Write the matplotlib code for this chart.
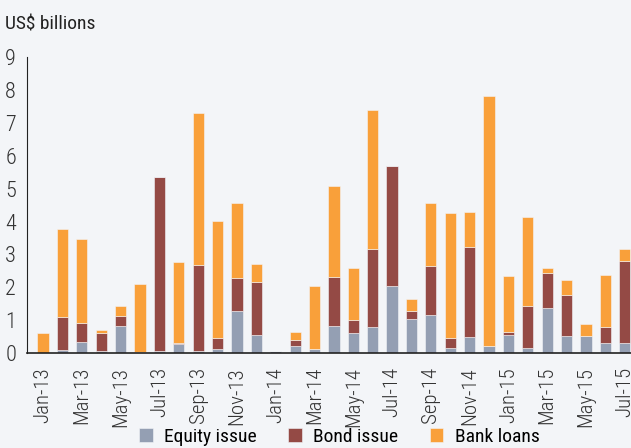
import matplotlib
matplotlib.use("Agg")
import matplotlib.pyplot as plt
from matplotlib import font_manager
import numpy as np

# monthly data, US$ billions
months = ["Jan-13", "Feb-13", "Mar-13", "Apr-13", "May-13", "Jun-13", "Jul-13", "Aug-13",
          "Sep-13", "Oct-13", "Nov-13", "Dec-13", "Jan-14", "Feb-14", "Mar-14", "Apr-14",
          "May-14", "Jun-14", "Jul-14", "Aug-14", "Sep-14", "Oct-14", "Nov-14", "Dec-14",
          "Jan-15", "Feb-15", "Mar-15", "Apr-15", "May-15", "Jun-15", "Jul-15"]
equity = [0.0, 0.09, 0.34, 0.07, 0.83, 0.02, 0.05, 0.27, 0.05, 0.12, 1.28, 0.55, 0.06, 0.21,
          0.12, 0.83, 0.61, 0.80, 2.05, 1.03, 1.16, 0.16, 0.48, 0.21, 0.56, 0.16, 1.38, 0.53,
          0.53, 0.31, 0.31]
bond = [0.0, 1.01, 0.57, 0.55, 0.30, 0.0, 5.31, 0.02, 2.62, 0.35, 1.00, 1.60, 0.0, 0.19,
        0.0, 1.47, 0.38, 2.38, 3.65, 0.26, 1.50, 0.31, 2.76, 0.0, 0.09, 1.26, 1.05, 1.25,
        0.0, 0.49, 2.48]
bank = [0.60, 2.66, 2.57, 0.08, 0.29, 2.08, 0.0, 2.47, 4.64, 3.54, 2.28, 0.56, 0.0, 0.25,
        1.93, 2.77, 1.59, 4.23, 0.0, 0.34, 1.90, 3.80, 1.06, 7.60, 1.70, 2.72, 0.15, 0.45,
        0.34, 1.58, 0.39]

# pick a narrow-ish font if one is there
names = {f.name for f in font_manager.fontManager.ttflist}
fam = "DejaVu Sans"
for cand in ["Liberation Sans Narrow", "Roboto Condensed", "Open Sans Condensed", "Lato", "Roboto"]:
    if cand in names:
        fam = cand
        break
plt.rcParams["font.family"] = [fam, "DejaVu Sans"]

bg = "#f3f5f8"
fig = plt.figure(figsize=(6.31, 4.48), dpi=100, facecolor=bg)
ax = fig.add_axes([0.043, 0.212, 0.957, 0.66])
ax.set_facecolor(bg)

x = np.arange(len(months))
eq = np.array(equity)
bd = np.array(bond)
bk = np.array(bank)
w = 0.58
ax.bar(x, eq, w, color="#949fb3", edgecolor="#f3f5f8", linewidth=0.4, label="Equity issue")
ax.bar(x, bd, w, bottom=eq, color="#944a45", edgecolor="#f3f5f8", linewidth=0.4, label="Bond issue")
ax.bar(x, bk, w, bottom=eq + bd, color="#f9a03a", edgecolor="#f3f5f8", linewidth=0.4, label="Bank loans")

ax.set_xlim(-0.82, 30.32)
ax.set_ylim(0, 9)
ax.set_yticks(range(10))
ax.tick_params(axis="y", length=0, labelsize=16, labelcolor="#333333", pad=8)
ax.set_xticks(x[::2])
ax.set_xticklabels(months[::2], rotation=90)
ax.tick_params(axis="x", length=0, labelsize=15, labelcolor="#333333", pad=10)
for lbl in ax.get_xticklabels() + ax.get_yticklabels():
    lbl.set_fontweight("light")

for s in ["top", "right"]:
    ax.spines[s].set_visible(False)
ax.spines["left"].set_color("#222222")
ax.spines["bottom"].set_color("#222222")
ax.spines["bottom"].set_linewidth(1.2)

fig.text(0.008, 0.945, "US$ billions", fontsize=14, color="#222222", va="center")

fig.legend(loc="center", bbox_to_anchor=(0.538, 0.025), ncol=3, frameon=False,
           fontsize=14, handlelength=0.7, handleheight=0.7, handletextpad=0.6, columnspacing=1.6)

fig.savefig("out.png", dpi=100, facecolor=bg)
